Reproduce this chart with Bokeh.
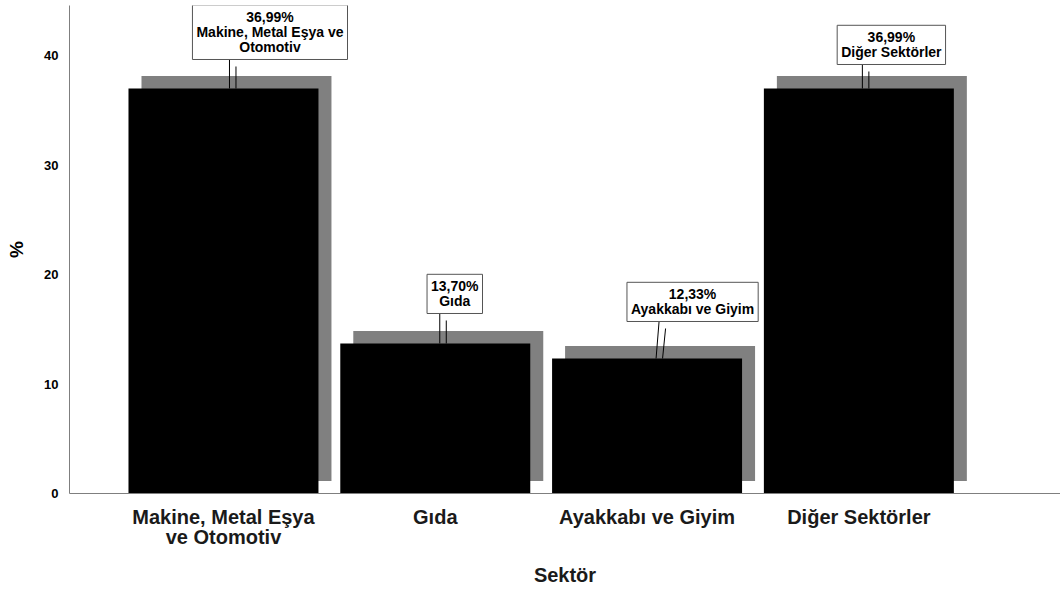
from bokeh.plotting import figure
from bokeh.models import Range1d, FixedTicker, SingleIntervalTicker, Label
from bokeh.embed import file_html
from bokeh.resources import INLINE

# ---- data -------------------------------------------------------------
sectors = ["Makine, Metal Eşya ve Otomotiv", "Gıda", "Ayakkabı ve Giyim", "Diğer Sektörler"]
axis_names = ["Makine, Metal Eşya\nve Otomotiv", "Gıda", "Ayakkabı ve Giyim", "Diğer Sektörler"]
callout_names = ["Makine, Metal Eşya ve\nOtomotiv", "Gıda", "Ayakkabı ve Giyim", "Diğer Sektörler"]
percent = [36.99, 13.70, 12.33, 36.99]

# ---- layout -----------------------------------------------------------
W, H = 1060, 589
LEFT, TOP, BOTTOM = 69, 5, 96
X0, X1 = -0.727, 3.952
Y1 = 44.57
px_x = (W - LEFT) / (X1 - X0)          # pixels per x unit
px_y = (H - TOP - BOTTOM) / Y1          # pixels per y unit
BAR_W = 0.897
SH_DX, SH_DY = 13 / px_x, 12.5 / px_y   # drop-shadow offset

# callout placement per bar: box centre shift, gap above bar, leader x at box / at bar (px)
callout_pos = [(46.5, 29, 6, 6), (19.5, 30, 4.5, 4.5), (45.5, 37, 12, 9), (32.5, 24, 3.5, 3.5)]

FONT = "Liberation Sans"

p = figure(width=W, height=H, output_backend="svg", toolbar_location=None,
           x_range=Range1d(X0, X1), y_range=Range1d(0, Y1),
           min_border_left=LEFT, min_border_top=TOP, min_border_bottom=BOTTOM,
           min_border_right=0)
p.outline_line_color = None
p.grid.visible = False
p.background_fill_color = "white"
p.border_fill_color = "white"

xs = list(range(len(sectors)))

# shadows
p.quad(left=[x - BAR_W / 2 + SH_DX for x in xs], right=[x + BAR_W / 2 + SH_DX for x in xs],
       bottom=[SH_DY] * len(xs), top=[v + SH_DY for v in percent],
       fill_color="#808080", line_color=None)
# bars
p.vbar(x=xs, width=BAR_W, top=percent, bottom=0, fill_color="black", line_color=None)

# callouts with leader lines
for i, v in enumerate(percent):
    bdx, gap, ltop, lbot = callout_pos[i]
    y_box = v + gap / px_y
    for k in range(2):
        sx = k * 6.5 / px_x
        sy = k * 7 / px_y
        p.segment(x0=[i + ltop / px_x + sx], y0=[y_box - sy],
                  x1=[i + lbot / px_x + sx], y1=[v],
                  line_color="black", line_width=1)
    txt = f"{v:.2f}".replace(".", ",") + "%\n" + callout_names[i]
    p.add_layout(Label(x=i + bdx / px_x, y=y_box, text=txt,
                       text_align="center", text_baseline="bottom",
                       text_font=FONT, text_font_style="bold", text_font_size="14px",
                       text_line_height=0.95, text_color="black",
                       background_fill_color="white", border_line_color="#555555",
                       border_line_width=1, padding=4))

# axes
xa = p.xaxis[0]
xa.ticker = FixedTicker(ticks=xs)
xa.major_label_overrides = {i: n for i, n in enumerate(axis_names)}
xa.major_tick_out = 0
xa.major_tick_in = 0
xa.minor_tick_line_color = None
xa.axis_line_color = "#7f7f7f"
xa.major_label_text_font = FONT
xa.major_label_text_font_size = "20px"
xa.major_label_text_font_style = "bold"
xa.major_label_text_color = "#1a1a1a"
xa.major_label_text_line_height = 0.95
xa.major_label_standoff = 12
xa.axis_label = "Sektör"
xa.axis_label_text_font = FONT
xa.axis_label_text_font_size = "20px"
xa.axis_label_text_font_style = "bold"
xa.axis_label_text_color = "#1a1a1a"
xa.axis_label_standoff = 13

ya = p.yaxis[0]
ya.ticker = SingleIntervalTicker(interval=10)
ya.major_tick_out = 0
ya.major_tick_in = 0
ya.minor_tick_line_color = None
ya.axis_line_color = "#7f7f7f"
ya.major_label_text_font = FONT
ya.major_label_text_font_size = "13px"
ya.major_label_text_font_style = "bold"
ya.major_label_text_color = "black"
ya.major_label_standoff = 7
ya.axis_label = "%"
ya.axis_label_text_font = FONT
ya.axis_label_text_font_size = "19px"
ya.axis_label_text_font_style = "bold"
ya.axis_label_text_color = "black"
ya.axis_label_standoff = 14

open("out.html", "w").write(file_html(p, INLINE))
